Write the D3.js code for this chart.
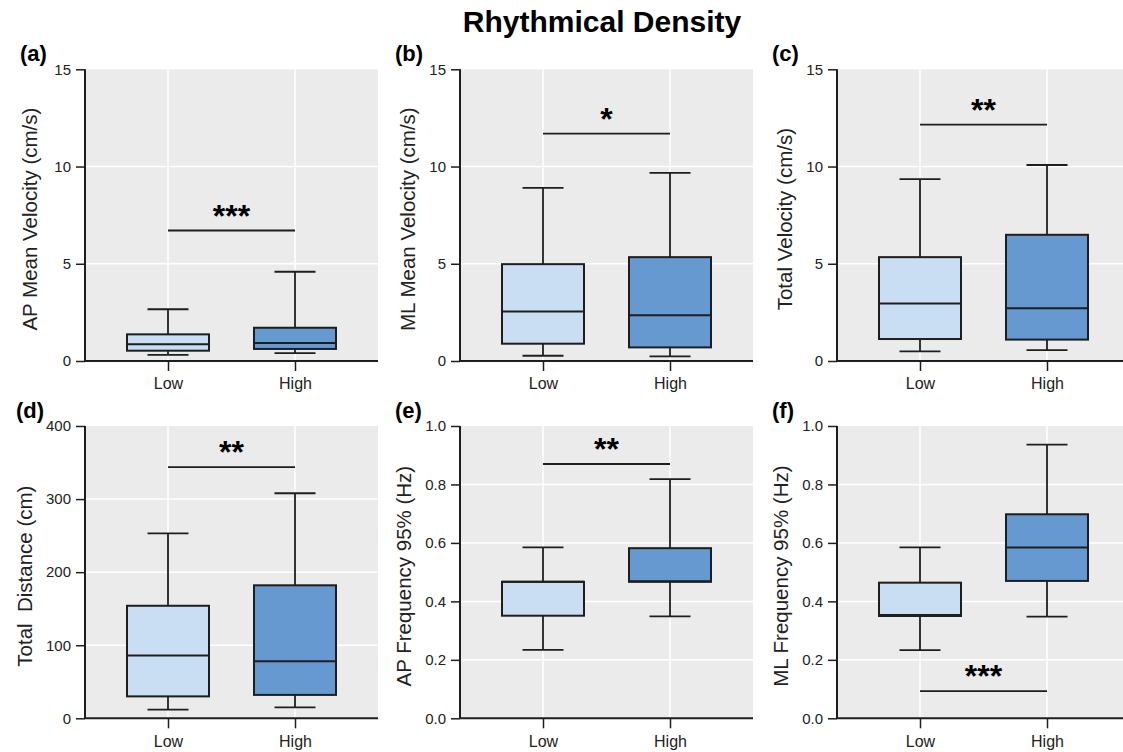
<!DOCTYPE html>
<html>
<head>
<meta charset="utf-8">
<script src="https://cdn.jsdelivr.net/npm/d3@7"></script>
<style>
  body { margin: 0; background: #fff; }
  svg { display: block; font-family: "Liberation Sans", Arial, sans-serif; }
</style>
</head>
<body>
<svg id="chart" width="1123" height="752"></svg>
<script>
// ---------- data ----------
const categories = ["Low", "High"];
const panelLabels = ["(a)", "(b)", "(c)", "(d)", "(e)", "(f)"];
const yTitles = [
  "AP Mean Velocity (cm/s)",
  "ML Mean Velocity (cm/s)",
  "Total Velocity (cm/s)",
  "Total  Distance (cm)",
  "AP Frequency 95% (Hz)",
  "ML Frequency 95% (Hz)"
];
const yMax = [15, 15, 15, 400, 1.0, 1.0];
const yTicks = [
  [0, 5, 10, 15],
  [0, 5, 10, 15],
  [0, 5, 10, 15],
  [0, 100, 200, 300, 400],
  [0, 0.2, 0.4, 0.6, 0.8, 1.0],
  [0, 0.2, 0.4, 0.6, 0.8, 1.0]
];
const yTickFormats = ["d", "d", "d", "d", ".1f", ".1f"];
// [min, q1, median, q3, max]
const lowStats = [
  [0.31, 0.53, 0.86, 1.37, 2.66],
  [0.27, 0.89, 2.55, 4.98, 8.90],
  [0.50, 1.13, 2.96, 5.34, 9.35],
  [12, 30, 86, 154, 253],
  [0.234, 0.351, 0.467, 0.467, 0.585],
  [0.233, 0.350, 0.353, 0.464, 0.585]
];
const highStats = [
  [0.41, 0.62, 0.92, 1.71, 4.59],
  [0.24, 0.70, 2.35, 5.34, 9.67],
  [0.56, 1.10, 2.71, 6.49, 10.08],
  [15, 32, 78, 182, 308],
  [0.349, 0.467, 0.469, 0.582, 0.818],
  [0.348, 0.470, 0.584, 0.698, 0.936]
];
const sigLabels = ["***", "*", "**", "**", "**", "***"];
const sigLevels = [6.71, 11.69, 12.16, 343.6, 0.87, 0.093];
const title = "Rhythmical Density";

// ---------- layout ----------
const colX = [85, 460, 837];
const rowTop = [69.3, 426];
const rowBottom = [361, 718.3];
const plotW = 293;
const boxW = 82;
const capW = 41;
const fills = ["#c9def2", "#6699d0"];
const ink = "#1e1e1e";

const svg = d3.select("#chart");

svg.append("text")
  .attr("x", 602).attr("y", 32)
  .attr("text-anchor", "middle")
  .attr("font-size", 30).attr("font-weight", "bold")
  .attr("fill", "#000")
  .text(title);

for (let i = 0; i < 6; i++) {
  const col = i % 3, row = Math.floor(i / 3);
  const x0 = colX[col], top = rowTop[row], bot = rowBottom[row];
  const g = svg.append("g").attr("transform", `translate(${x0},0)`);

  const x = d3.scalePoint().domain(categories).range([0, plotW]).padding(0.6535);
  const y = d3.scaleLinear().domain([0, yMax[i]]).range([bot, top]);

  // background
  g.append("rect").attr("x", 0).attr("y", top)
    .attr("width", plotW).attr("height", bot - top)
    .attr("fill", "#ebebeb");

  // grid
  g.selectAll(".hg").data(yTicks[i].filter(t => t > 0 && t < yMax[i]))
    .join("line")
    .attr("x1", 0).attr("x2", plotW)
    .attr("y1", d => y(d)).attr("y2", d => y(d))
    .attr("stroke", "#fff").attr("stroke-width", 1.5);
  g.selectAll(".vg").data(categories).join("line")
    .attr("x1", d => x(d)).attr("x2", d => x(d))
    .attr("y1", top).attr("y2", bot)
    .attr("stroke", "#fff").attr("stroke-width", 1.5);

  // boxes
  const stats = [lowStats[i], highStats[i]];
  categories.forEach((c, k) => {
    const s = stats[k];
    const cx = x(c);
    const bg = g.append("g");
    bg.append("line").attr("x1", cx).attr("x2", cx)
      .attr("y1", y(s[0])).attr("y2", y(s[1]))
      .attr("stroke", ink).attr("stroke-width", 1.8);
    bg.append("line").attr("x1", cx).attr("x2", cx)
      .attr("y1", y(s[3])).attr("y2", y(s[4]))
      .attr("stroke", ink).attr("stroke-width", 1.8);
    bg.append("line").attr("x1", cx - capW / 2).attr("x2", cx + capW / 2)
      .attr("y1", y(s[0])).attr("y2", y(s[0]))
      .attr("stroke", ink).attr("stroke-width", 1.8);
    bg.append("line").attr("x1", cx - capW / 2).attr("x2", cx + capW / 2)
      .attr("y1", y(s[4])).attr("y2", y(s[4]))
      .attr("stroke", ink).attr("stroke-width", 1.8);
    bg.append("rect").attr("x", cx - boxW / 2).attr("width", boxW)
      .attr("y", y(s[3])).attr("height", y(s[1]) - y(s[3]))
      .attr("fill", fills[k]).attr("stroke", ink).attr("stroke-width", 2);
    bg.append("line").attr("x1", cx - boxW / 2).attr("x2", cx + boxW / 2)
      .attr("y1", y(s[2])).attr("y2", y(s[2]))
      .attr("stroke", ink).attr("stroke-width", 2);
  });

  // significance
  const sy = y(sigLevels[i]);
  g.append("line").attr("x1", x("Low")).attr("x2", x("High"))
    .attr("y1", sy).attr("y2", sy)
    .attr("stroke", ink).attr("stroke-width", 1.8);
  g.append("text").attr("x", (x("Low") + x("High")) / 2).attr("y", sy - 4)
    .attr("text-anchor", "middle").attr("font-size", 32).attr("font-weight", "bold")
    .attr("fill", "#000")
    .text(sigLabels[i]);

  // axes
  const yAxis = d3.axisLeft(y).tickValues(yTicks[i])
    .tickFormat(d3.format(yTickFormats[i])).tickSize(9).tickPadding(5);
  const ya = g.append("g").call(yAxis);
  ya.select(".domain").attr("stroke", ink).attr("stroke-width", 2)
    .attr("d", `M0,${top}V${bot}`);
  ya.selectAll(".tick line").attr("stroke", ink).attr("stroke-width", 1.5);
  ya.selectAll(".tick text").attr("font-size", 15).attr("fill", "#222")
    .attr("font-family", "Liberation Sans, Arial, sans-serif");

  const xAxis = d3.axisBottom(x).tickSize(10).tickPadding(7);
  const xa = g.append("g").attr("transform", `translate(0,${bot})`).call(xAxis);
  xa.select(".domain").attr("stroke", ink).attr("stroke-width", 2)
    .attr("d", `M0,0H${plotW}`);
  xa.selectAll(".tick line").attr("stroke", ink).attr("stroke-width", 1.5);
  xa.selectAll(".tick text").attr("font-size", 16).attr("fill", "#222")
    .attr("font-family", "Liberation Sans, Arial, sans-serif");

  // y title
  const offs = [48, 45, 45, 53, 49, 49];
  g.append("text")
    .attr("transform", `translate(${-offs[i]},${(top + bot) / 2 + 4}) rotate(-90)`)
    .attr("text-anchor", "middle")
    .attr("font-size", 20.5).attr("fill", "#222")
    .style("white-space", "pre")
    .text(yTitles[i]);

  // panel label
  g.append("text").attr("x", i === 3 ? -69 : -65).attr("y", top - 8)
    .attr("font-size", 22).attr("font-weight", "bold").attr("fill", "#000")
    .text(panelLabels[i]);
}
</script>
</body>
</html>
